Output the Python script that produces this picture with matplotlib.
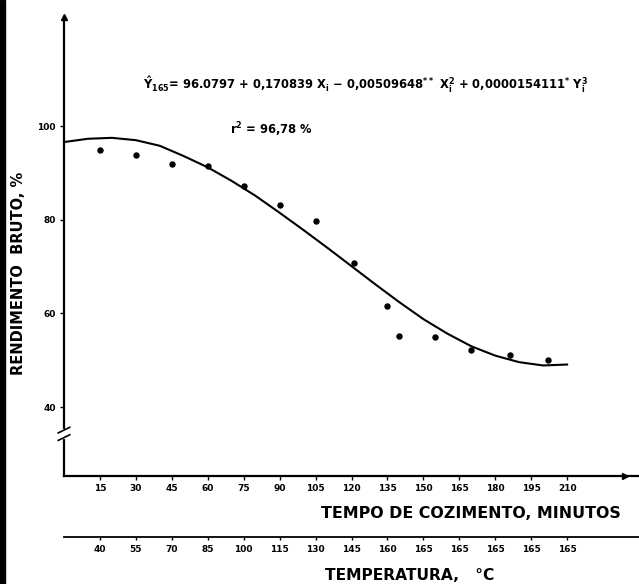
import matplotlib
matplotlib.use('Agg')
from matplotlib import pyplot as plt
from matplotlib.patches import Rectangle

plt.rcParams['font.family'] = ['DejaVu Sans']
plt.rcParams['font.weight'] = 'bold'
plt.rcParams['mathtext.fontset'] = 'dejavusans'
plt.rcParams['mathtext.default'] = 'bf'

# observed points (cooking time, gross yield %)
tempo = [15, 30, 45, 60, 75, 90, 105, 121, 135, 140, 155, 170, 186, 202]
rendimento = [95.0, 93.8, 91.9, 91.5, 87.2, 83.2, 79.7, 70.8, 61.6, 55.2, 55.0, 52.1, 51.2, 50.1]

# fitted curve
curva_x = [0, 10, 20, 30, 40, 50, 60, 70, 80, 90, 100, 110, 120, 130, 140, 150, 160, 170, 180, 190, 200, 210]
curva_y = [96.6, 97.3, 97.5, 97.0, 95.8, 93.6, 91.2, 88.3, 85.1, 81.5, 77.8, 74.0, 70.1, 66.2, 62.4,
           58.8, 55.7, 53.0, 51.0, 49.6, 48.9, 49.1]

# axis ticks
ticks_tempo = [15, 30, 45, 60, 75, 90, 105, 120, 135, 150, 165, 180, 195, 210]
labels_temp = ['40', '55', '70', '85', '100', '115', '130', '145', '160', '165', '165', '165', '165', '165']
ticks_y = [40, 60, 80, 100]

W, H = 639, 584
fig = plt.figure(figsize=(W / 100, H / 100), dpi=100)
ax = fig.add_axes([64 / W, 1 - 476 / H, 575 / W, 459 / H])

ax.plot(curva_x, curva_y, color='black', lw=1.5)
ax.plot(tempo, rendimento, 'o', color='black', ms=3.6)

ax.set_xlim(0, 240)
ax.set_ylim(25.3, 123.3)
for s in ['top', 'right']:
    ax.spines[s].set_visible(False)
for s in ['left', 'bottom']:
    ax.spines[s].set_linewidth(1.6)

ax.set_xticks(ticks_tempo)
ax.set_xticklabels([str(t) for t in ticks_tempo])
ax.set_yticks(ticks_y)
ax.tick_params(axis='both', labelsize=6.5, length=3, width=1.0, pad=3)

# temperature scale below
sec = ax.secondary_xaxis(-0.133)
sec.set_xticks(ticks_tempo)
sec.set_xticklabels(labels_temp)
sec.tick_params(labelsize=6.5, length=2.5, width=1.0, pad=3)
sec.spines['bottom'].set_linewidth(1.3)

# arrows on axes
ax.plot(0, 1, marker='^', color='black', ms=5, transform=ax.transAxes, clip_on=False)
ax.plot(0.975, 0, marker='>', color='black', ms=5, transform=ax.transAxes, clip_on=False)

# axis break marks
tr = ax.get_yaxis_transform()
ax.plot([0, 0], [33.6, 35.0], color='white', lw=3, transform=tr, clip_on=False, zorder=5)
ax.plot([-0.01, 0.01], [32.9, 34.1], color='black', lw=1.2, transform=tr, clip_on=False, zorder=6)
ax.plot([-0.01, 0.01], [34.5, 35.7], color='black', lw=1.2, transform=tr, clip_on=False, zorder=6)

# texts
fig.text(143 / W, 1 - 85 / H,
         r'$\hat{Y}_{165}$= 96.0797 + 0,170839 $X_i$ − 0,00509648$^{**}$ $X_i^2$ + 0,0000154111$^{*}$ $Y_i^3$',
         fontsize=8.3, ha='left', va='center')
fig.text(230 / W, 1 - 130 / H, r'$r^2$ = 96,78 %', fontsize=8.3, ha='left', va='center')

fig.text(471 / W, 1 - 513 / H, 'TEMPO DE COZIMENTO, MINUTOS', fontsize=11.4, ha='center', va='center')
fig.text(410 / W, 1 - 575 / H, 'TEMPERATURA,   °C', fontsize=11.2, ha='center', va='center')
fig.text(19 / W, 1 - 273 / H, 'RENDIMENTO  BRUTO, %', fontsize=10.5, rotation=90, ha='center', va='center')

# dark scan edge on the left
fig.add_artist(Rectangle((0, 0), 5 / W, 1, transform=fig.transFigure, color='black'))

fig.savefig('out.png', dpi=100)
